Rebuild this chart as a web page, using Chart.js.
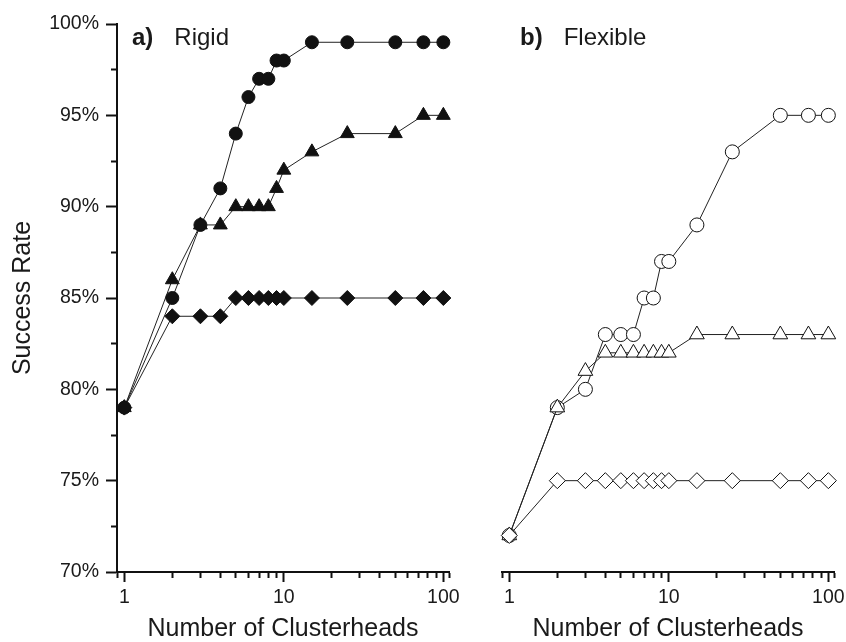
<!DOCTYPE html>
<html>
<head>
<meta charset="utf-8">
<script src="https://cdn.jsdelivr.net/npm/chart.js@4"></script>
<style>
  body { margin: 0; background: #fff; }
  #wrap { position: relative; width: 846px; height: 642px; font-family: "Liberation Sans", Arial, sans-serif; color: #1a1a1a; }
  canvas { position: absolute; top: 0; }
  #rigidChart { left: 0; }
  #flexChart { left: 470px; }
  .panel { position: absolute; top: 25px; font-size: 24px; line-height: 24px; white-space: nowrap; }
  .panel b { margin-right: 21px; }
</style>
</head>
<body>
<div id="wrap">
  <canvas id="rigidChart" width="470" height="642"></canvas>
  <canvas id="flexChart" width="376" height="642"></canvas>
  <div class="panel" style="left:132px"><b>a)</b>Rigid</div>
  <div class="panel" style="left:520px"><b>b)</b>Flexible</div>
</div>
<script>
// number of clusterheads (x) shared by every series
const clusterheads = [1, 2, 3, 4, 5, 6, 7, 8, 9, 10, 15, 25, 50, 75, 100];

// a) rigid - filled markers
const rigidCircle   = [79, 85, 89, 91, 94, 96, 97, 97, 98, 98, 99, 99, 99, 99, 99];
const rigidTriangle = [79, 86, 89, 89, 90, 90, 90, 90, 91, 92, 93, 94, 94, 95, 95];
const rigidDiamond  = [79, 84, 84, 84, 85, 85, 85, 85, 85, 85, 85, 85, 85, 85, 85];

// b) flexible - open markers
const flexCircle   = [72, 79, 80, 83, 83, 83, 85, 85, 87, 87, 89, 93, 95, 95, 95];
const flexTriangle = [72, 79, 81, 82, 82, 82, 82, 82, 82, 82, 83, 83, 83, 83, 83];
const flexDiamond  = [72, 75, 75, 75, 75, 75, 75, 75, 75, 75, 75, 75, 75, 75, 75];

const xTicks = [1, 2, 3, 4, 5, 6, 7, 8, 9, 10, 20, 30, 40, 50, 60, 70, 80, 90, 100];
const xLabels = [1, 10, 100];
const xMin = 0.9, xMax = 108.5;
const yMin = 70, yMax = 100, yStep = 2.5, yLabelStep = 5;

const ink = '#111';
const textColor = '#1a1a1a';
const fontFamily = '"Liberation Sans", Arial, sans-serif';

function series(values, shape, filled, radius) {
    return {
        data: clusterheads.map((x, i) => ({ x: x, y: values[i] })),
        pointStyle: shape,
        pointRadius: radius,
        pointHoverRadius: radius,
        pointBackgroundColor: filled ? ink : '#fff',
        pointBorderColor: ink,
        pointBorderWidth: 1,
        borderColor: '#222',
        borderWidth: 1,
        tension: 0,
        fill: false,
        clip: 12
    };
}

function makePanel(id, datasets, showY, padding) {
    return new Chart(document.getElementById(id), {
        type: 'line',
        data: { datasets: datasets },
        options: {
            responsive: false,
            animation: false,
            events: [],
            layout: { padding: padding },
            plugins: { legend: { display: false }, tooltip: { enabled: false } },
            scales: {
                x: {
                    type: 'logarithmic',
                    min: xMin,
                    max: xMax,
                    afterBuildTicks: axis => {
                        axis.ticks = [xMin].concat(xTicks, [xMax]).map(v => ({ value: v }));
                    },
                    afterFit: axis => { axis.height = 70; },
                    border: { color: ink, width: 2 },
                    grid: {
                        drawOnChartArea: false,
                        tickLength: 10,
                        tickColor: ink,
                        tickWidth: 2,
                        tickBorderDash: c => (c.tick && xLabels.includes(c.tick.value)) ? [] : [5, 20]
                    },
                    ticks: {
                        autoSkip: false,
                        maxRotation: 0,
                        padding: 4,
                        color: textColor,
                        font: { family: fontFamily, size: 19.5 },
                        callback: v => xLabels.includes(v) ? String(v) : ''
                    },
                    title: {
                        display: true,
                        text: 'Number of Clusterheads',
                        color: textColor,
                        padding: 0,
                        font: { family: fontFamily, size: 25, lineHeight: 1 }
                    }
                },
                y: {
                    display: showY,
                    min: yMin,
                    max: yMax,
                    afterFit: axis => { axis.width = showY ? 117 : 0; },
                    border: { color: ink, width: 2 },
                    grid: {
                        drawOnChartArea: false,
                        tickLength: 11,
                        tickColor: ink,
                        tickWidth: 2,
                        tickBorderDash: c => (c.tick && c.tick.value % yLabelStep === 0) ? [] : [5, 5],
                        tickBorderDashOffset: 5
                    },
                    ticks: {
                        stepSize: yStep,
                        padding: 7,
                        color: textColor,
                        font: { family: fontFamily, size: 19.5 },
                        callback: v => v % yLabelStep === 0 ? v + '%' : ''
                    },
                    title: {
                        display: true,
                        text: 'Success Rate',
                        color: textColor,
                        padding: { top: 9, bottom: 0 },
                        font: { family: fontFamily, size: 25, lineHeight: 1.1 }
                    }
                }
            }
        }
    });
}

makePanel('rigidChart', [
    series(rigidDiamond, 'rectRot', true, 7.5),
    series(rigidCircle, 'circle', true, 6.5),
    series(rigidTriangle, 'triangle', true, 8)
], true, { top: 24, right: 21, bottom: 0, left: 0 });

makePanel('flexChart', [
    series(flexDiamond, 'rectRot', false, 8),
    series(flexTriangle, 'triangle', false, 8.5),
    series(flexCircle, 'circle', false, 7)
], false, { top: 24, right: 12, bottom: 0, left: 32 });
</script>
</body>
</html>
